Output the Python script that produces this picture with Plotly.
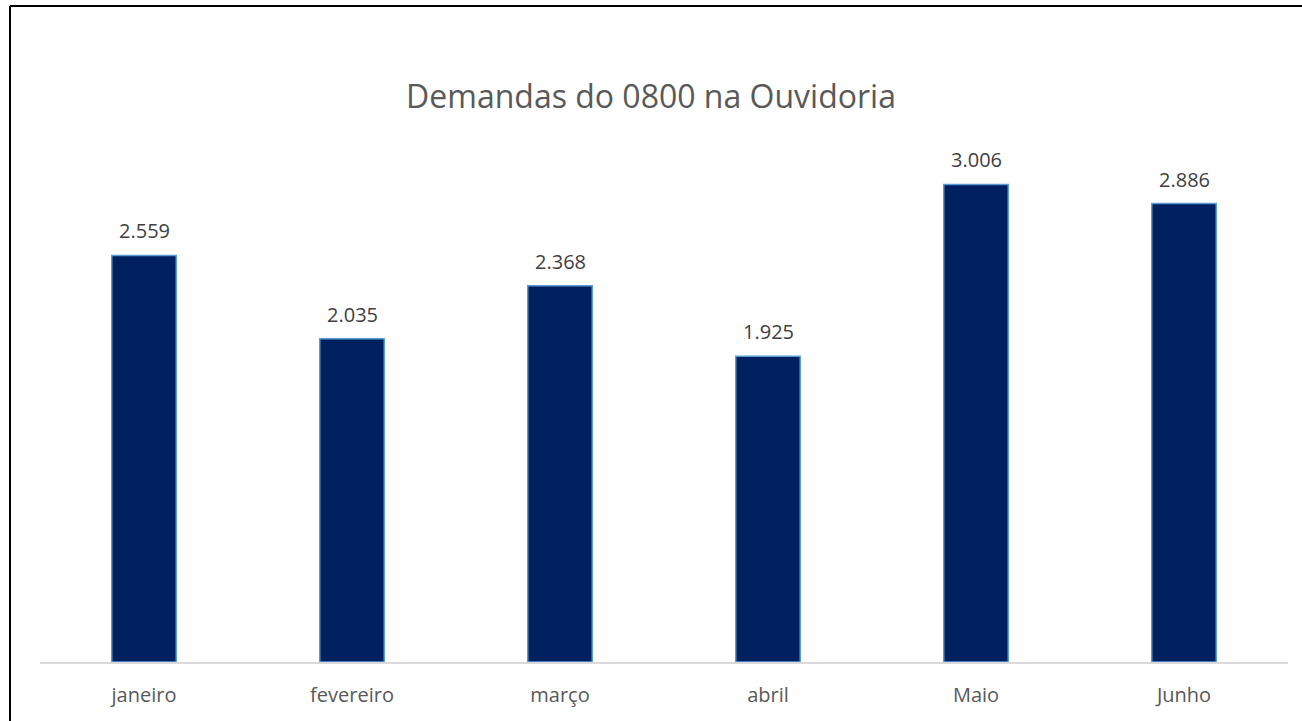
import plotly.graph_objects as go

months = ["janeiro", "fevereiro", "março", "abril", "Maio", "Junho"]
demandas = [2559, 2035, 2368, 1925, 3006, 2886]
title_text = "Demandas do 0800 na Ouvidoria"

W, H = 1302, 721
L, R, T, B = 40, 14, 106, 59
pw, ph = W - L - R, H - T - B

def fmt(v):
    return f"{v:,}".replace(",", ".")

fig = go.Figure()
fig.add_trace(go.Bar(
    x=months, y=demandas,
    width=0.31,
    marker=dict(color="#002060", line=dict(color="#5B9BD5", width=1.5)),
    hoverinfo="skip",
))

for m, v in zip(months, demandas):
    fig.add_annotation(x=m, y=v, text=fmt(v), showarrow=False,
                       yanchor="bottom", yshift=9,
                       font=dict(family="Open Sans", size=20, color="#404040"))

def px_to_paper_x(px):
    return (px - L) / pw

def px_to_paper_y(py):
    return (H - B - py) / ph

border = dict(color="black", width=2)
fig.add_shape(type="line", xref="paper", yref="paper",
              x0=px_to_paper_x(10), x1=px_to_paper_x(1302),
              y0=px_to_paper_y(6), y1=px_to_paper_y(6),
              line=border, layer="above")
fig.add_shape(type="line", xref="paper", yref="paper",
              x0=px_to_paper_x(10), x1=px_to_paper_x(10),
              y0=px_to_paper_y(721), y1=px_to_paper_y(6),
              line=border, layer="above")

fig.update_layout(
    width=W, height=H,
    margin=dict(l=L, r=R, t=T, b=B),
    paper_bgcolor="white", plot_bgcolor="white",
    title=dict(text=title_text, x=0.5, xref="container", xanchor="center",
               y=(H - 97) / H, yanchor="middle",
               font=dict(family="Open Sans", size=32, color="#595959")),
    showlegend=False,
    xaxis=dict(showline=True, linecolor="#D9D9D9", linewidth=1.5,
               showgrid=False, ticks="", ticklabelstandoff=14,
               tickfont=dict(family="Open Sans", size=20, color="#595959")),
    yaxis=dict(range=[0, 3500], visible=False, showgrid=False, zeroline=False),
)

fig.write_html("out.html", config={"displayModeBar": False},
               post_script="document.body.style.margin='0';")
